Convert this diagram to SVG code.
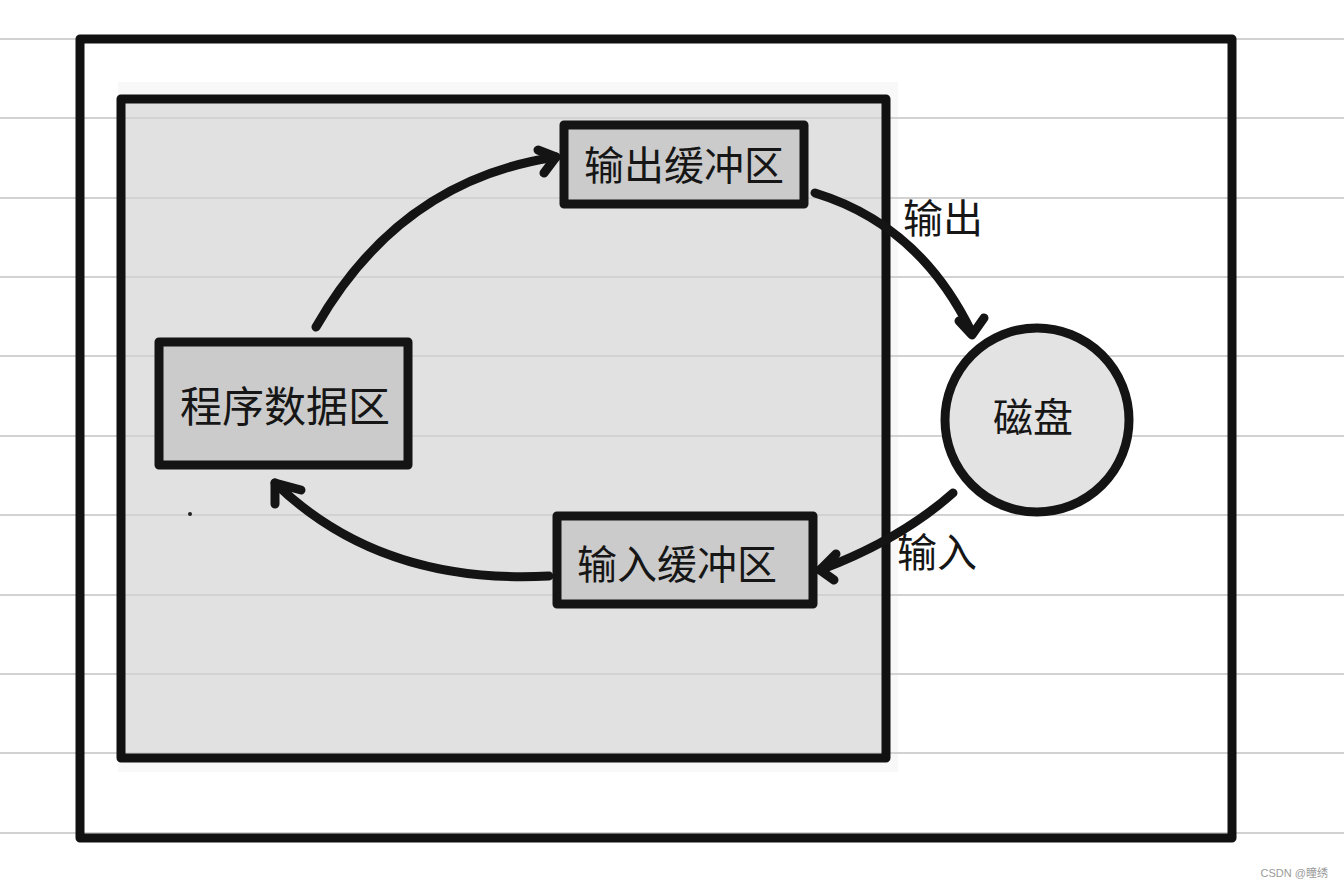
<svg xmlns="http://www.w3.org/2000/svg" width="1344" height="889" viewBox="0 0 1344 889">
<defs>
<style>
.rule{stroke:#d2d2d2;stroke-width:2}
.frame{fill:none;stroke:#111;stroke-width:9;stroke-linejoin:round}
.box{fill:#cbcbcb;stroke:#141414;stroke-width:9;stroke-linejoin:round}
.arr{fill:none;stroke:#141414;stroke-width:9;stroke-linecap:round;stroke-linejoin:round}
.t{font-family:"Noto Sans CJK SC","Noto Sans",sans-serif;fill:#161616;text-anchor:middle}
</style>
</defs>
<rect width="1344" height="889" fill="#fff"/>
<rect x="118" y="82" width="780" height="690" fill="#f8f8f8"/>
<rect x="121" y="99" width="765" height="659" fill="#e1e1e1"/>
<g id="rules">
<line class="rule" x1="0" y1="39" x2="1344" y2="39"/>
<line class="rule" x1="0" y1="118" x2="1344" y2="118"/>
<line class="rule" x1="0" y1="198" x2="1344" y2="198"/>
<line class="rule" x1="0" y1="277" x2="1344" y2="277"/>
<line class="rule" x1="0" y1="356" x2="1344" y2="356"/>
<line class="rule" x1="0" y1="436" x2="1344" y2="436"/>
<line class="rule" x1="0" y1="515" x2="1344" y2="515"/>
<line class="rule" x1="0" y1="595" x2="1344" y2="595"/>
<line class="rule" x1="0" y1="674" x2="1344" y2="674"/>
<line class="rule" x1="0" y1="753" x2="1344" y2="753"/>
<line class="rule" x1="0" y1="833" x2="1344" y2="833"/>
</g>
<g id="outer-frame"><rect class="frame" x="80" y="39" width="1152" height="799"/></g>
<g id="memory"><rect class="frame" x="121" y="99" width="765" height="659"/></g>
<g id="connectors">
<path class="arr" d="M316,327 Q400,180 556,157"/>
<path class="arr" d="M538,150 L556,157 L544,173"/>
<path class="arr" d="M815,193 Q920,225 972,333"/>
<path class="arr" d="M959,321 L972,335 L984,318"/>
<path class="arr" d="M953,493 Q900,540 820,570"/>
<path class="arr" d="M836,554 L820,570 L834,580"/>
<path class="arr" d="M549,576 Q380,585 275,483"/>
<path class="arr" d="M275,504 L275,483 L301,490"/>
</g>
<g id="output-buffer"><rect class="box" x="564" y="125" width="240" height="79"/><text class="t" x="684" y="180" font-size="40">输出缓冲区</text></g>
<g id="program-data"><rect class="box" x="159" y="342" width="249" height="123"/><text class="t" x="285" y="422" font-size="42">程序数据区</text></g>
<g id="input-buffer"><rect class="box" x="557" y="516" width="256" height="88"/><text class="t" x="677" y="579" font-size="40">输入缓冲区</text></g>
<g id="disk"><circle cx="1037" cy="420" r="92" fill="#e3e3e3" stroke="#141414" stroke-width="9"/><text class="t" x="1033" y="432" font-size="40">磁盘</text></g>
<g id="labels">
<text class="t" x="943" y="233" font-size="40">输出</text>
<text class="t" x="937" y="567" font-size="40">输入</text>
</g>
<circle cx="190" cy="514" r="2" fill="#222"/>
<text x="1328" y="877" font-family="'Liberation Sans','Noto Sans CJK SC',sans-serif" font-size="11" fill="#9a9a9a" text-anchor="end">CSDN @瞳绣</text>
</svg>
